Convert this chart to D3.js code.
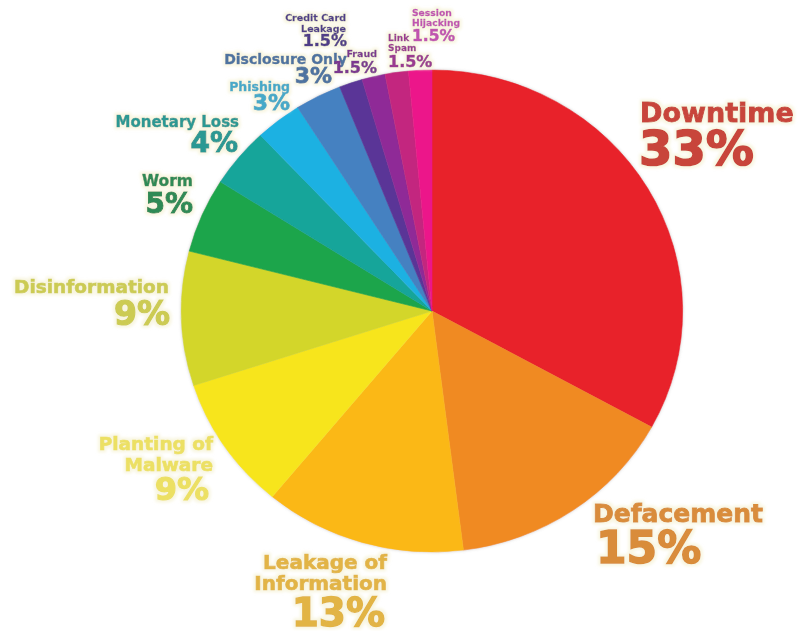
<!DOCTYPE html>
<html>
<head>
<meta charset="utf-8">
<script src="https://cdn.jsdelivr.net/npm/d3@7"></script>
<style>
  body { margin: 0; background: #fff; }
  svg text { font-family: "DejaVu Sans", sans-serif; font-weight: bold; paint-order: stroke; }
</style>
</head>
<body>
<svg id="chart" width="801" height="631"></svg>
<script>
// data, clockwise from 12 o'clock
const categories = ["Downtime", "Defacement", "Leakage of\nInformation", "Planting of\nMalware",
  "Disinformation", "Worm", "Monetary Loss", "Phishing", "Disclosure Only",
  "Credit Card\nLeakage", "Fraud", "Link\nSpam", "Session\nHijacking"];
const values = [33, 15, 13, 9, 9, 5, 4, 3, 3, 1.5, 1.5, 1.5, 1.5];
const pctLabels = ["33%", "15%", "13%", "9%", "9%", "5%", "4%", "3%", "3%", "1.5%", "1.5%", "1.5%", "1.5%"];

const sliceColors = ["#e8202a", "#f08a24", "#fbb818", "#f7e51f", "#d3d62b", "#1ea54b",
  "#12a59a", "#1cb1e2", "#4581c1", "#5a3697", "#8f2a97", "#c3287f", "#ec158a"];
const textColors = ["#c8453b", "#d98c3a", "#e2b444", "#ece064", "#cccb52", "#2f8a56",
  "#2b9893", "#45a9c8", "#4d73a0", "#4f3e88", "#7b378f", "#9b3b91", "#c052b0"];

// label placement: x, baseline y of first name line, name size, line height, anchor,
// then percent x, baseline, size, anchor
const labelPos = [
  [640, 122, 27, 0, "start", 639, 165, 48, "start"],
  [593, 522, 25, 0, "start", 596, 563, 44, "start"],
  [387, 569, 20, 21, "end", 385, 626, 39, "end"],
  [213, 450, 18.5, 21, "end", 209, 500, 32, "end"],
  [169, 293, 18.5, 0, "end", 170, 325, 33, "end"],
  [193, 186, 15.5, 0, "end", 193, 213, 28, "end"],
  [239, 127, 15, 0, "end", 238, 152, 28, "end"],
  [290, 91, 12.5, 0, "end", 290, 110, 22, "end"],
  [347, 64, 14, 0, "end", 332, 83, 22, "end"],
  [346, 21, 9.5, 11, "end", 347, 46, 16, "end"],
  [377, 57, 9.5, 0, "end", 377, 73, 16, "end"],
  [388, 41, 9, 10, "start", 388, 67, 16, "start"],
  [412, 16, 9.2, 10, "start", 412, 41, 15.5, "start"]
];

const svg = d3.select("#chart");
const cx = 432, cy = 311, radius = 241, stretchX = 1.04;

const defs = svg.append("defs");
const glow = defs.append("filter").attr("id", "glow")
  .attr("x", "-20%").attr("y", "-20%").attr("width", "140%").attr("height", "140%");
glow.append("feMorphology").attr("in", "SourceAlpha").attr("operator", "dilate").attr("radius", 1.5).attr("result", "d");
glow.append("feGaussianBlur").attr("in", "d").attr("stdDeviation", 1.5).attr("result", "b");
glow.append("feFlood").attr("flood-color", "#f6f3d8").attr("flood-opacity", 0.8);
glow.append("feComposite").attr("in2", "b").attr("operator", "in").attr("result", "bf");
const gm = glow.append("feMerge");
gm.append("feMergeNode").attr("in", "bf");
gm.append("feMergeNode").attr("in", "SourceGraphic");

const edge = defs.append("filter").attr("id", "edge")
  .attr("x", "-5%").attr("y", "-5%").attr("width", "110%").attr("height", "110%");
edge.append("feGaussianBlur").attr("in", "SourceAlpha").attr("stdDeviation", 1.5).attr("result", "s");
edge.append("feFlood").attr("flood-color", "#999").attr("flood-opacity", 0.5);
edge.append("feComposite").attr("in2", "s").attr("operator", "in").attr("result", "sh");
const em = edge.append("feMerge");
em.append("feMergeNode").attr("in", "sh");
em.append("feMergeNode").attr("in", "SourceGraphic");

const pie = d3.pie().sort(null).value(d => d);
const arc = d3.arc().innerRadius(0).outerRadius(radius);

const pieG = svg.append("g")
  .attr("transform", `translate(${cx},${cy}) scale(${stretchX},1)`)
  .attr("filter", "url(#edge)");

pieG.selectAll("path")
  .data(pie(values))
  .enter()
  .append("path")
  .attr("d", arc)
  .attr("fill", (d, i) => sliceColors[i])
  .attr("stroke", (d, i) => sliceColors[i])
  .attr("stroke-width", 0.6);

const labels = svg.append("g").attr("filter", "url(#glow)");

categories.forEach((name, i) => {
  const p = labelPos[i];
  const t = labels.append("text")
    .attr("x", p[0]).attr("y", p[1])
    .attr("font-size", p[2])
    .attr("text-anchor", p[4])
    .attr("fill", textColors[i])
    .attr("stroke", textColors[i])
    .attr("stroke-width", p[2] * 0.035);
  name.split("\n").forEach((line, j) => {
    t.append("tspan").attr("x", p[0]).attr("dy", j === 0 ? 0 : p[3]).text(line);
  });
  labels.append("text")
    .attr("x", p[5]).attr("y", p[6])
    .attr("font-size", p[7])
    .attr("text-anchor", p[8])
    .attr("fill", textColors[i])
    .attr("stroke", textColors[i])
    .attr("stroke-width", p[7] * 0.035)
    .text(pctLabels[i]);
});
</script>
</body>
</html>
